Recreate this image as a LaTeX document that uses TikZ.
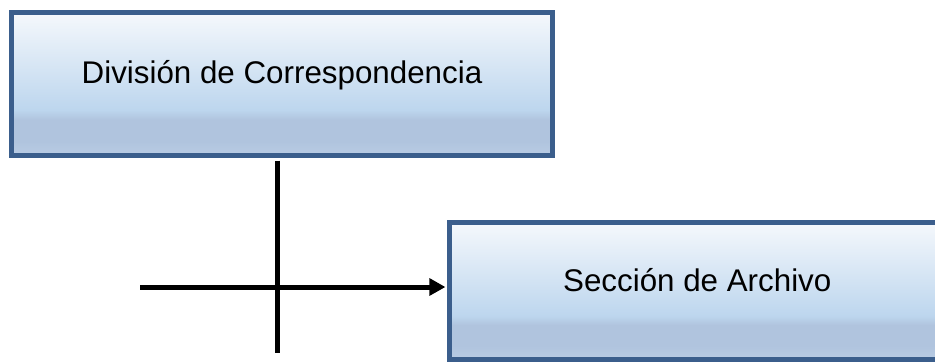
\documentclass[tikz,border=0pt]{standalone}
\usepackage{fontspec}
\setmainfont{Liberation Sans}
\usetikzlibrary{arrows.meta, positioning}

\definecolor{boxline}{HTML}{3B5E8C}
\definecolor{filltop}{HTML}{F5F8FC}
\definecolor{fillmid}{HTML}{BDD6EE}
\definecolor{fillband}{HTML}{B0C4DE}
\definecolor{fillbot}{HTML}{B9CCE4}
\pgfdeclareverticalshading{boxshade}{100bp}{color(0bp)=(fillbot); color(25bp)=(fillbot); color(30bp)=(fillband); color(37.5bp)=(fillband); color(41bp)=(fillmid); color(75bp)=(filltop); color(100bp)=(filltop)}

\tikzset{
  unitbox/.style={draw=boxline, line width=3.75pt, shading=boxshade, inner sep=0pt,
    font=\fontsize{23.5}{28}\selectfont, text height=16.8pt},
  connector/.style={draw=black, line width=3.75pt}
}

\begin{document}
\begin{tikzpicture}[x=0.75pt, y=-0.75pt]
  \path[use as bounding box, clip] (0,0) rectangle (935,362);

  % Units
  \node[unitbox, minimum width=405.75pt, minimum height=107.25pt, text depth=18.3pt] (division) at (282,84) {División de Correspondencia};
  \node[unitbox, minimum width=371.6pt, minimum height=102.75pt, text depth=16.8pt] (archivo) at (697.25,291) {Sección de Archivo};

  % Vertical stem
  \coordinate (stemend) at (277,353);
  \draw[connector, shorten <=1.9pt] (division.south -| stemend) -- (stemend);

  % Arrow into the section
  \coordinate (feed) at (140,287);
  \draw[connector, -{Triangle[length=12pt, width=12.5pt]}, shorten >=1.2pt] (feed) -- (feed -| archivo.west);
\end{tikzpicture}
\end{document}
